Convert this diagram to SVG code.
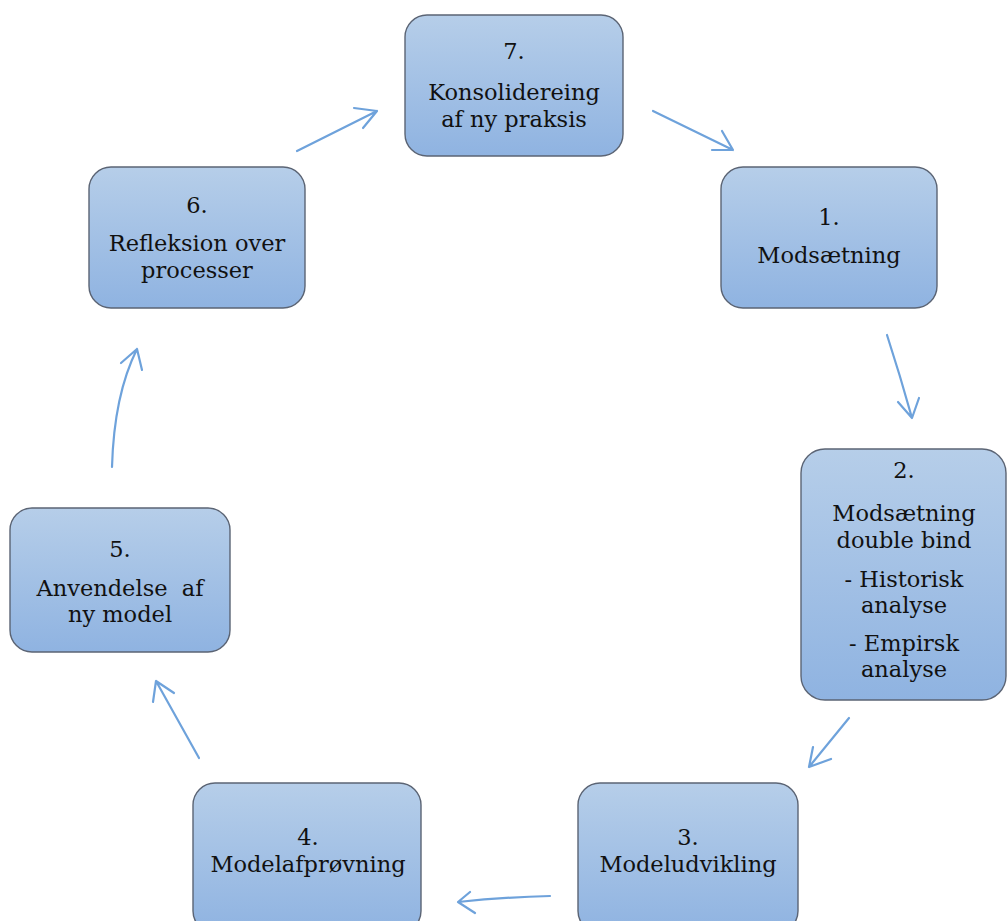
<svg xmlns="http://www.w3.org/2000/svg" width="1008" height="921" viewBox="0 0 1008 921">
<defs>
<linearGradient id="g" x1="0" y1="0" x2="0" y2="1">
<stop offset="0" stop-color="#b6cee9"/>
<stop offset="1" stop-color="#8fb3e1"/>
</linearGradient>
<style>
.box{fill:url(#g);stroke:#5b6474;stroke-width:1.4}
.t{font-family:"DejaVu Serif","Liberation Serif",serif;font-size:22.5px;fill:#111;text-anchor:middle}
.c{fill:none;stroke:#6ea2db;stroke-width:2.2;stroke-linecap:round;stroke-linejoin:round}
</style>
</defs>
<rect width="1008" height="921" fill="#fff"/>
<g id="connectors">
<path class="c" d="M653,111 L733,150 M712,150 L733,150 L722,131"/>
<path class="c" d="M887,335 Q900,375 912,418 M898,402 L912,418 L919,398"/>
<path class="c" d="M849,718 L809,767 M813,747 L809,767 L831,759"/>
<path class="c" d="M550,896 Q505,897 458,902 M470,892 L458,902 L475,913"/>
<path class="c" d="M199,758 L156,681 M153,702 L156,681 L174,693"/>
<path class="c" d="M112,467 Q114,395 137,349 M121,363 L137,349 L142,370"/>
<path class="c" d="M297,151 L377,111 M354,108 L377,111 L363,128"/>
</g>
<g id="node7">
<rect class="box" x="405" y="15" width="218" height="141" rx="22"/>
<text class="t" x="514" y="59">7.</text>
<text class="t" x="514" y="100">Konsolidereing</text>
<text class="t" x="514" y="127">af ny praksis</text>
</g>
<g id="node1">
<rect class="box" x="721" y="167" width="216" height="141" rx="22"/>
<text class="t" x="829" y="225">1.</text>
<text class="t" x="829" y="263">Modsætning</text>
</g>
<g id="node2">
<rect class="box" x="801" y="449" width="205" height="251" rx="24"/>
<text class="t" x="904" y="478">2.</text>
<text class="t" x="904" y="521">Modsætning</text>
<text class="t" x="904" y="548">double bind</text>
<text class="t" x="904" y="587">- Historisk</text>
<text class="t" x="904" y="613">analyse</text>
<text class="t" x="904" y="651">- Empirsk</text>
<text class="t" x="904" y="677">analyse</text>
</g>
<g id="node3">
<rect class="box" x="578" y="783" width="220" height="150" rx="22"/>
<text class="t" x="688" y="845">3.</text>
<text class="t" x="688" y="872">Modeludvikling</text>
</g>
<g id="node4">
<rect class="box" x="193" y="783" width="228" height="150" rx="22"/>
<text class="t" x="308" y="845">4.</text>
<text class="t" x="308" y="872">Modelafprøvning</text>
</g>
<g id="node5">
<rect class="box" x="10" y="508" width="220" height="144" rx="22"/>
<text class="t" x="120" y="557">5.</text>
<text class="t" x="120" y="596" style="white-space:pre">Anvendelse  af</text>
<text class="t" x="120" y="622">ny model</text>
</g>
<g id="node6">
<rect class="box" x="89" y="167" width="216" height="141" rx="22"/>
<text class="t" x="197" y="213">6.</text>
<text class="t" x="197" y="251">Refleksion over</text>
<text class="t" x="197" y="278">processer</text>
</g>
</svg>
